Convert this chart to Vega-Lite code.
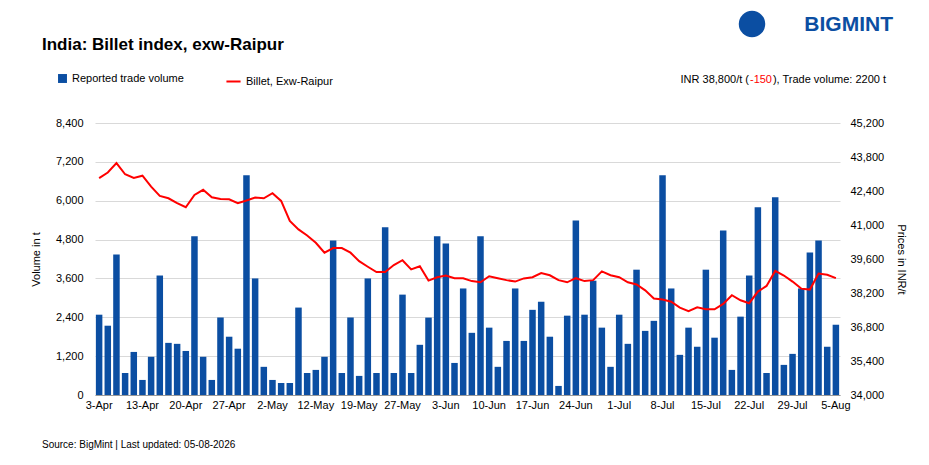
{
  "$schema": "https://vega.github.io/schema/vega-lite/v6.json",
  "width": 745,
  "height": 272,
  "autosize": "none",
  "padding": {"left": 95, "top": 123, "right": 89, "bottom": 70},
  "background": "white",
  "config": {"font": "Liberation Sans", "view": {"stroke": null}},
  "data": {"values": [
    {"d":"3-Apr","v":2480,"p":42930},{"d":"4-Apr","v":2140,"p":43160},{"d":"5-Apr","v":4340,"p":43550},{"d":"7-Apr","v":680,"p":43090},{"d":"10-Apr","v":1330,"p":42940},
    {"d":"13-Apr","v":465,"p":43030},{"d":"15-Apr","v":1180,"p":42580},{"d":"16-Apr","v":3690,"p":42200},{"d":"17-Apr","v":1610,"p":42100},{"d":"18-Apr","v":1580,"p":41900},
    {"d":"20-Apr","v":1360,"p":41730},{"d":"22-Apr","v":4900,"p":42240},{"d":"23-Apr","v":1180,"p":42450},{"d":"24-Apr","v":465,"p":42140},{"d":"25-Apr","v":2390,"p":42070},
    {"d":"27-Apr","v":1800,"p":42060},{"d":"28-Apr","v":1430,"p":41900},{"d":"29-Apr","v":6790,"p":42010},{"d":"30-Apr","v":3600,"p":42130},{"d":"1-May","v":870,"p":42100},
    {"d":"2-May","v":465,"p":42310},{"d":"5-May","v":370,"p":41990},{"d":"6-May","v":370,"p":41170},{"d":"8-May","v":2700,"p":40820},{"d":"9-May","v":680,"p":40570},
    {"d":"12-May","v":775,"p":40270},{"d":"13-May","v":1180,"p":39860},{"d":"14-May","v":4770,"p":40050},{"d":"15-May","v":680,"p":40050},{"d":"16-May","v":2390,"p":39860},
    {"d":"19-May","v":590,"p":39510},{"d":"20-May","v":3600,"p":39280},{"d":"21-May","v":680,"p":39060},{"d":"22-May","v":5180,"p":39060},{"d":"23-May","v":680,"p":39350},
    {"d":"27-May","v":3100,"p":39550},{"d":"28-May","v":680,"p":39170},{"d":"29-May","v":1550,"p":39300},{"d":"30-May","v":2390,"p":38710},{"d":"31-May","v":4900,"p":38850},
    {"d":"3-Jun","v":4680,"p":38920},{"d":"4-Jun","v":990,"p":38810},{"d":"5-Jun","v":3290,"p":38810},{"d":"6-Jun","v":1920,"p":38690},{"d":"7-Jun","v":4900,"p":38640},
    {"d":"10-Jun","v":2080,"p":38890},{"d":"11-Jun","v":870,"p":38810},{"d":"12-Jun","v":1670,"p":38730},{"d":"13-Jun","v":3290,"p":38670},{"d":"14-Jun","v":1670,"p":38800},
    {"d":"17-Jun","v":2630,"p":38850},{"d":"18-Jun","v":2880,"p":39020},{"d":"19-Jun","v":1800,"p":38930},{"d":"20-Jun","v":280,"p":38730},{"d":"21-Jun","v":2450,"p":38640},
    {"d":"24-Jun","v":5390,"p":38810},{"d":"25-Jun","v":2480,"p":38690},{"d":"26-Jun","v":3530,"p":38730},{"d":"27-Jun","v":2080,"p":39090},{"d":"28-Jun","v":870,"p":38930},
    {"d":"1-Jul","v":2480,"p":38850},{"d":"2-Jul","v":1580,"p":38640},{"d":"3-Jul","v":3870,"p":38550},{"d":"4-Jul","v":1980,"p":38310},{"d":"5-Jul","v":2290,"p":37970},
    {"d":"8-Jul","v":6790,"p":37930},{"d":"9-Jul","v":3290,"p":37840},{"d":"10-Jul","v":1240,"p":37600},{"d":"11-Jul","v":2080,"p":37450},{"d":"12-Jul","v":1490,"p":37610},
    {"d":"15-Jul","v":3870,"p":37530},{"d":"16-Jul","v":1770,"p":37530},{"d":"17-Jul","v":5080,"p":37750},{"d":"18-Jul","v":775,"p":38110},{"d":"19-Jul","v":2420,"p":37900},
    {"d":"22-Jul","v":3690,"p":37780},{"d":"23-Jul","v":5800,"p":38260},{"d":"24-Jul","v":680,"p":38490},{"d":"25-Jul","v":6110,"p":39110},{"d":"26-Jul","v":930,"p":38920},
    {"d":"29-Jul","v":1270,"p":38670},{"d":"30-Jul","v":3290,"p":38380},{"d":"31-Jul","v":4400,"p":38340},{"d":"1-Aug","v":4770,"p":39000},{"d":"2-Aug","v":1490,"p":38950},
    {"d":"5-Aug","v":2170,"p":38810}
  ]},
  "layer": [
    {
      "mark": {"type": "bar", "color": "#0B4EA2"},
      "encoding": {
        "x": {"field": "d", "type": "ordinal", "sort": null, "scale": {"paddingInner": 0.25, "paddingOuter": 0.1},
          "axis": {"title": null, "labelAngle": 0, "labelFontSize": 11, "labelColor": "#000", "ticks": false, "domainColor": "#999", "labelPadding": 4,
            "labelExpr": "indexof(['3-Apr','13-Apr','20-Apr','27-Apr','2-May','12-May','19-May','27-May','3-Jun','10-Jun','17-Jun','24-Jun','1-Jul','8-Jul','15-Jul','22-Jul','29-Jul','5-Aug'], datum.value) >= 0 ? datum.value : ''"}},
        "y": {"field": "v", "type": "quantitative", "scale": {"domain": [0, 8400]},
          "axis": {"title": "Volume in t", "titleFontSize": 11, "titleFontWeight": "normal", "titleColor": "#000", "values": [0,1200,2400,3600,4800,6000,7200,8400], "format": ",d", "labelFontSize": 11, "labelColor": "#000", "ticks": false, "domain": false, "gridColor": "#d9d9d9", "labelPadding": 12, "titlePadding": 14}},
        "color": {"datum": "Reported trade volume", "type": "nominal", "scale": {"range": ["#0B4EA2"]},
          "legend": {"title": null, "orient": "none", "legendX": -38, "legendY": -50, "symbolType": "square", "labelFontSize": 11, "labelColor": "#000", "symbolSize": 80}}
      }
    },
    {
      "mark": {"type": "line", "color": "#FF0000", "strokeWidth": 2},
      "encoding": {
        "x": {"field": "d", "type": "ordinal", "sort": null},
        "y": {"field": "p", "type": "quantitative", "scale": {"domain": [34000, 45200]},
          "axis": {"orient": "right", "title": "Prices in INR/t", "titleFontSize": 11, "titleFontWeight": "normal", "titleColor": "#000", "values": [34000,35400,36800,38200,39600,41000,42400,43800,45200], "format": ",d", "labelFontSize": 11, "labelColor": "#000", "ticks": false, "domain": false, "grid": false, "labelPadding": 10, "titlePadding": 12}},
        "stroke": {"datum": "Billet, Exw-Raipur", "type": "nominal", "scale": {"range": ["#FF0000"]},
          "legend": {"title": null, "orient": "none", "legendX": 130, "legendY": -50, "symbolType": "stroke", "symbolStrokeWidth": 2, "labelFontSize": 11, "labelColor": "#000", "symbolSize": 200}}
      }
    },
    {
      "data": {"values": [{"t": "INR 38,800/t ("}]},
      "mark": {"type": "text", "fontSize": 11, "align": "right", "baseline": "middle", "color": "#000", "dx": -137},
      "encoding": {"text": {"field": "t"}, "x": {"value": 791}, "y": {"value": -43}}
    },
    {
      "data": {"values": [{"t": "-150"}]},
      "mark": {"type": "text", "fontSize": 11, "align": "right", "baseline": "middle", "color": "#FF0000", "dx": -114},
      "encoding": {"text": {"field": "t"}, "x": {"value": 791}, "y": {"value": -43}}
    },
    {
      "data": {"values": [{"t": "), Trade volume: 2200 t"}]},
      "mark": {"type": "text", "fontSize": 11, "align": "right", "baseline": "middle", "color": "#000"},
      "encoding": {"text": {"field": "t"}, "x": {"value": 791}, "y": {"value": -43}}
    },
    {
      "data": {"values": [{"t": "India: Billet index, exw-Raipur"}]},
      "mark": {"type": "text", "fontSize": 17, "fontWeight": "bold", "align": "left", "baseline": "middle", "color": "#000"},
      "encoding": {"text": {"field": "t"}, "x": {"value": -53}, "y": {"value": -78}}
    },
    {
      "data": {"values": [{"t": "Source: BigMint | Last updated: 05-08-2026"}]},
      "mark": {"type": "text", "fontSize": 10, "align": "left", "baseline": "middle", "color": "#000"},
      "encoding": {"text": {"field": "t"}, "x": {"value": -53}, "y": {"value": 322}}
    },
    {
      "data": {"values": [{"t": "BIGMINT"}]},
      "mark": {"type": "text", "fontSize": 21, "fontWeight": "bold", "align": "right", "baseline": "middle", "color": "#0B4EA2"},
      "encoding": {"text": {"field": "t"}, "x": {"value": 798}, "y": {"value": -98}}
    },
    {
      "data": {"values": [{"t": "logo"}]},
      "mark": {"type": "point", "filled": true, "opacity": 1, "size": 700, "color": "#0B4EA2", "shape": "circle"},
      "encoding": {"x": {"value": 657}, "y": {"value": -99}}
    }
  ],
  "resolve": {"scale": {"y": "independent", "color": "independent"}, "legend": {"color": "independent"}}
}
